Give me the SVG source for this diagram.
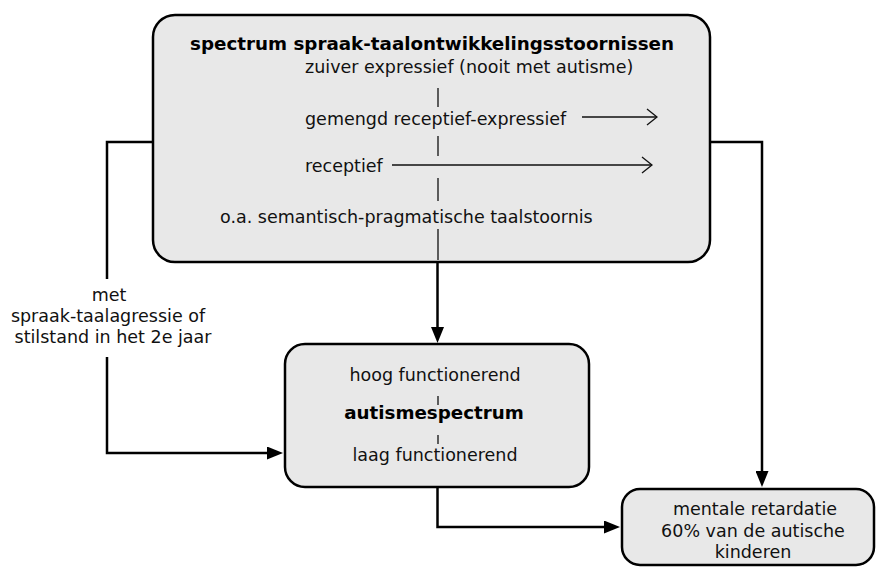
<svg xmlns="http://www.w3.org/2000/svg" width="877" height="567" viewBox="0 0 877 567">
<style>
  .box { fill: #e8e8e8; stroke: #000; stroke-width: 2.5; }
  .t { font-family: "DejaVu Sans", "Open Sans", sans-serif; font-size: 17.5px; fill: #111; }
  .b { font-weight: bold; font-size: 18.3px; fill: #000; }
  .mid { text-anchor: middle; }
  .conn { fill: none; stroke: #000; stroke-width: 2.5; }
  .thin { fill: none; stroke: #111; stroke-width: 1.3; }
</style>
<defs>
  <marker id="ah" markerUnits="userSpaceOnUse" markerWidth="16" markerHeight="13" refX="6" refY="6.5" orient="auto">
    <path d="M0,0 L16,6.5 L0,13 z" fill="#000"/>
  </marker>
  <marker id="open" markerUnits="userSpaceOnUse" markerWidth="12" markerHeight="20" refX="11" refY="10" orient="auto">
    <path d="M1,2 L11,10 L1,18" fill="none" stroke="#111" stroke-width="1.3"/>
  </marker>
</defs>

<g id="connectors">
  <path class="conn" d="M437.5,262 V333" marker-end="url(#ah)"/>
  <path class="conn" d="M153,142 H107 V279"/>
  <path class="conn" d="M107,357 V453 H273" marker-end="url(#ah)"/>
  <path class="conn" d="M710,142 H762 V477" marker-end="url(#ah)"/>
  <path class="conn" d="M437.5,487 V527 H610" marker-end="url(#ah)"/>
</g>

<g id="spectrum">
  <rect class="box" x="153" y="15" width="557" height="247" rx="22"/>
  <text class="t b mid" x="432" y="50">spectrum spraak-taalontwikkelingsstoornissen</text>
  <text class="t" x="305" y="73">zuiver expressief (nooit met autisme)</text>
  <text class="t" x="305" y="125">gemengd receptief-expressief</text>
  <text class="t" x="305" y="172">receptief</text>
  <text class="t" x="220" y="223">o.a. semantisch-pragmatische taalstoornis</text>
  <path class="thin" d="M438,88 V107 M438,136 V156 M438,178 V201 M438,229 V260"/>
  <path class="thin" d="M582,117 H657" marker-end="url(#open)"/>
  <path class="thin" d="M392,165 H652" marker-end="url(#open)"/>
</g>

<g id="autisme">
  <rect class="box" x="285" y="344" width="304" height="143" rx="20"/>
  <text class="t mid" x="435" y="381">hoog functionerend</text>
  <text class="t b mid" x="434" y="419">autismespectrum</text>
  <text class="t mid" x="435" y="461">laag functionerend</text>
  <path class="thin" d="M438,396 V405 M438,435 V444"/>
</g>

<g id="retardatie">
  <rect class="box" x="622" y="489" width="252" height="76" rx="18"/>
  <text class="t mid" x="755" y="515">mentale retardatie</text>
  <text class="t mid" x="753" y="537">60% van de autische</text>
  <text class="t mid" x="753" y="558">kinderen</text>
</g>

<g id="label">
  <text class="t mid" x="109" y="301">met</text>
  <text class="t mid" x="108" y="322">spraak-taalagressie of</text>
  <text class="t mid" x="113" y="343">stilstand in het 2e jaar</text>
</g>
</svg>
